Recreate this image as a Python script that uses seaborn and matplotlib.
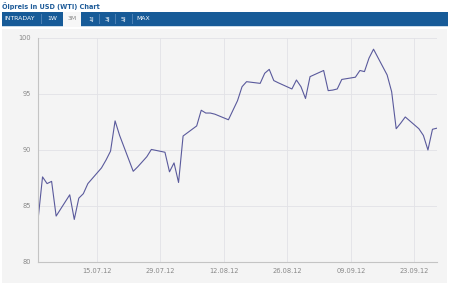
import matplotlib
matplotlib.use("Agg")
import matplotlib.pyplot as plt
import matplotlib.dates as mdates
from matplotlib.patches import Rectangle
import pandas as pd
import seaborn as sns

dates = ["2012-07-02", "2012-07-03", "2012-07-04", "2012-07-05", "2012-07-06",
         "2012-07-09", "2012-07-10", "2012-07-11", "2012-07-12", "2012-07-13",
         "2012-07-16", "2012-07-17", "2012-07-18", "2012-07-19", "2012-07-20",
         "2012-07-23", "2012-07-24", "2012-07-25", "2012-07-26", "2012-07-27",
         "2012-07-30", "2012-07-31", "2012-08-01", "2012-08-02", "2012-08-03",
         "2012-08-06", "2012-08-07", "2012-08-08", "2012-08-09", "2012-08-10",
         "2012-08-13", "2012-08-14", "2012-08-15", "2012-08-16", "2012-08-17",
         "2012-08-20", "2012-08-21", "2012-08-22", "2012-08-23", "2012-08-24",
         "2012-08-27", "2012-08-28", "2012-08-29", "2012-08-30", "2012-08-31",
         "2012-09-03", "2012-09-04", "2012-09-05", "2012-09-06", "2012-09-07",
         "2012-09-10", "2012-09-11", "2012-09-12", "2012-09-13", "2012-09-14",
         "2012-09-17", "2012-09-18", "2012-09-19", "2012-09-20", "2012-09-21",
         "2012-09-24", "2012-09-25", "2012-09-26", "2012-09-27", "2012-09-28"]
prices = [83.75, 87.6, 87.0, 87.2, 84.1,
          86.0, 83.8, 85.7, 86.1, 87.0,
          88.4, 89.1, 89.9, 92.6, 91.3,
          88.1, 88.5, 88.95, 89.4, 90.05,
          89.8, 88.05, 88.85, 87.1, 91.25,
          92.15, 93.55, 93.3, 93.3, 93.2,
          92.7, 93.55, 94.4, 95.65, 96.1,
          95.95, 96.85, 97.2, 96.2, 96.0,
          95.45, 96.25, 95.65, 94.6, 96.55,
          97.1, 95.3, 95.35, 95.45, 96.3,
          96.5, 97.1, 97.0, 98.2, 99.0,
          96.7, 95.2, 91.9, 92.4, 92.95,
          91.9, 91.3, 90.0, 91.85, 91.95]

y_ticks = [80, 85, 90, 95, 100]
x_ticks = ["2012-07-15", "2012-07-29", "2012-08-12", "2012-08-26", "2012-09-09", "2012-09-23"]

title_text = "Ölpreis in USD (WTI) Chart"
tabs = ["INTRADAY", "1W", "3M", "1J", "3J", "5J", "MAX"]
tab_x = [20, 52, 72, 91, 107, 123, 143]
tab_active = "3M"

df = pd.DataFrame({"date": pd.to_datetime(dates), "price": prices})

sns.set_theme(style="white")
plt.rcParams['font.family'] = ['DejaVu Sans']

W, H = 450, 300
fig = plt.figure(figsize=(4.5, 3.0), dpi=100, facecolor="white")

# panel background
fig.patches.append(Rectangle((2 / W, 1 - 283 / H), 445 / W, 254 / H,
                             transform=fig.transFigure, facecolor="#f4f4f4",
                             edgecolor="none", zorder=-2))
# tab bar
fig.patches.append(Rectangle((2 / W, 1 - 26 / H), 446 / W, 14 / H,
                             transform=fig.transFigure, facecolor="#175b98",
                             edgecolor="none", zorder=1))
fig.patches.append(Rectangle((2 / W, 1 - 27 / H), 446 / W, 1 / H,
                             transform=fig.transFigure, facecolor="#c9dbe9",
                             edgecolor="none", zorder=1))
fig.text(2 / W, 1 - 6.5 / H, title_text, fontsize=4.7, fontweight="bold",
         color="#1f5c99", ha="left", va="center")
for lbl, cx in zip(tabs, tab_x):
    if lbl == tab_active:
        fig.patches.append(Rectangle(((cx - 9) / W, 1 - 27 / H), 18 / W, 15 / H,
                                     transform=fig.transFigure, facecolor="#f7f7f7",
                                     edgecolor="none", zorder=2))
        col = "#8a8a8a"
    else:
        col = "white"
    fig.text(cx / W, 1 - 19 / H, lbl, fontsize=4.4, color=col,
             ha="center", va="center", zorder=3)
for sx in [41, 99, 115, 132]:
    fig.patches.append(Rectangle((sx / W, 1 - 24 / H), 0.6 / W, 10 / H,
                                 transform=fig.transFigure, facecolor="#4a7fb3",
                                 edgecolor="none", zorder=2))

ax = fig.add_axes([38 / W, 1 - 262 / H, (437 - 38) / W, (262 - 38) / H])
ax.set_zorder(5)
ax.set_facecolor("#f4f4f4")
sns.lineplot(data=df, x="date", y="price", ax=ax, color="#5a5a9c", linewidth=0.8)

ax.set_ylim(80, 100)
ax.set_xlim(pd.Timestamp("2012-07-02"), pd.Timestamp("2012-09-28"))
ax.set_yticks(y_ticks)
ax.set_xticks(pd.to_datetime(x_ticks))
ax.xaxis.set_major_formatter(mdates.DateFormatter("%d.%m.%y"))
ax.grid(True, color="#e2e2e6", linewidth=0.6)
ax.set_axisbelow(True)
ax.set_xlabel("")
ax.set_ylabel("")
for s in ["top", "right"]:
    ax.spines[s].set_visible(False)
for s in ["left", "bottom"]:
    ax.spines[s].set_color("#c4c4c4")
    ax.spines[s].set_linewidth(0.8)
ax.tick_params(axis="both", labelsize=4.8, colors="#888888", length=0, pad=4)
ax.tick_params(axis="y", pad=5)

fig.savefig("out.png", dpi=100, facecolor="white")
